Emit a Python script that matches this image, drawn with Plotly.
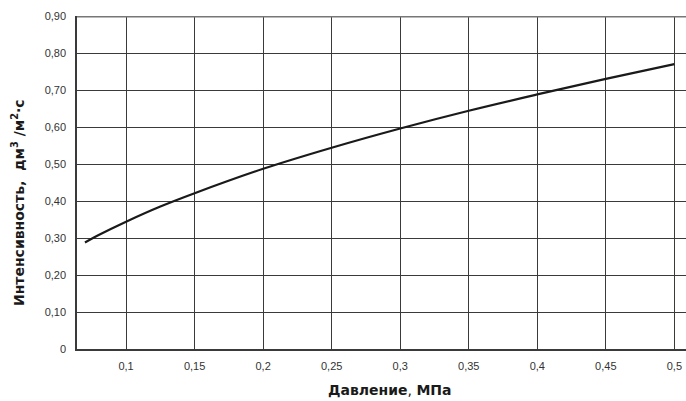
import plotly.graph_objects as go

# Pressure (MPa) and intensity (dm3/m2·s)
pressure = [0.07, 0.08, 0.1, 0.125, 0.15, 0.2, 0.25, 0.3, 0.35, 0.4, 0.45, 0.5]
intensity = [0.288, 0.308, 0.344, 0.385, 0.421, 0.487, 0.544, 0.596, 0.644, 0.688, 0.730, 0.770]

x_ticks = [0.1, 0.15, 0.2, 0.25, 0.3, 0.35, 0.4, 0.45, 0.5]
x_labels = ["0,1", "0,15", "0,2", "0,25", "0,3", "0,35", "0,4", "0,45", "0,5"]
y_ticks = [0, 0.1, 0.2, 0.3, 0.4, 0.5, 0.6, 0.7, 0.8, 0.9]
y_labels = ["0", "0,10", "0,20", "0,30", "0,40", "0,50", "0,60", "0,70", "0,80", "0,90"]

FONT = "Liberation Sans, Arial, sans-serif"
TITLE_FONT = "DejaVu Sans, Liberation Sans, sans-serif"

fig = go.Figure()
fig.add_trace(go.Scatter(
    x=pressure, y=intensity, mode="lines",
    line=dict(color="#1a1a1a", width=2.2, shape="spline"),
    hoverinfo="skip", showlegend=False,
))

fig.update_layout(
    width=686, height=401,
    margin=dict(l=77, r=0, t=16, b=52),
    paper_bgcolor="white", plot_bgcolor="white",
    font=dict(family=FONT, size=11, color="#222"),
    xaxis=dict(
        range=[0.0642, 0.5085], tickvals=x_ticks, ticktext=x_labels,
        showgrid=True, gridcolor="#3a3a3a", gridwidth=1,
        showline=True, linecolor="#3a3a3a", linewidth=1.5,
        zeroline=False, ticks="", ticklabelstandoff=6,
        tickfont=dict(size=11, color="#333"),
    ),
    yaxis=dict(
        range=[0, 0.9], tickvals=y_ticks, ticktext=y_labels,
        showgrid=True, gridcolor="#3a3a3a", gridwidth=1,
        showline=True, linecolor="#3a3a3a", linewidth=1.5,
        zeroline=False, ticks="", ticklabelstandoff=7,
        tickfont=dict(size=11, color="#333"),
    ),
)

# heavier frame line along the top of the plot area
fig.add_shape(type="line", xref="paper", yref="y", x0=0, x1=1, y0=0.9, y1=0.9,
              line=dict(color="#777", width=3))

fig.add_annotation(
    text="<b>Давление</b>, <b>МПа</b>", xref="paper", yref="paper",
    x=0.514, y=-0.124, xanchor="center", yanchor="middle", showarrow=False,
    font=dict(family=TITLE_FONT, size=14, color="#1a1a1a"),
)
fig.add_annotation(
    text="<b>Интенсивность,  дм<sup>3</sup> /м<sup>2</sup>·с</b>", xref="paper", yref="paper",
    x=-0.097, y=0.441, xanchor="center", yanchor="middle", showarrow=False, textangle=-90,
    font=dict(family=TITLE_FONT, size=14, color="#1a1a1a"),
)

fig.write_html("out.html")
